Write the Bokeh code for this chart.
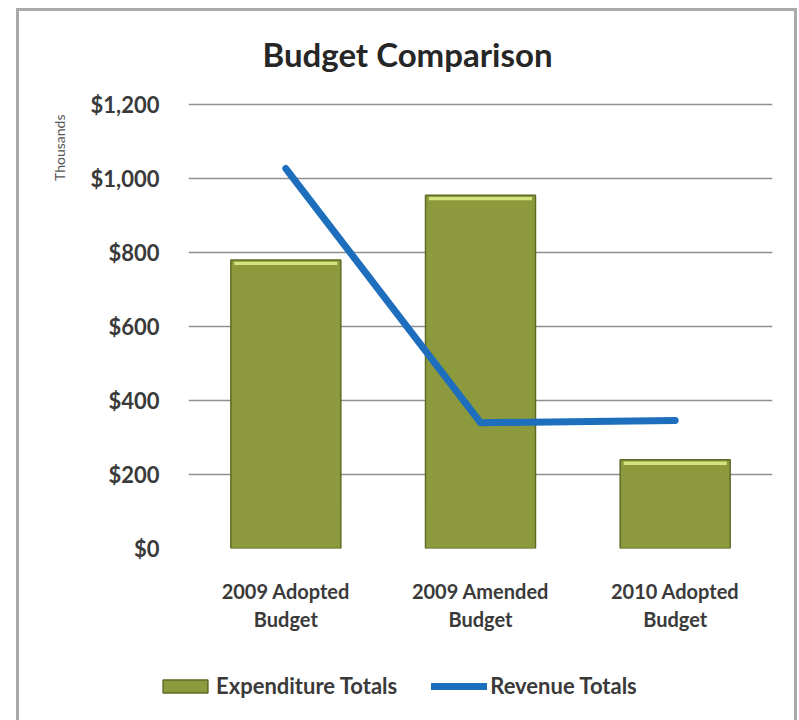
from bokeh.plotting import figure
from bokeh.layouts import column
from bokeh.models import (FactorRange, Range1d, FixedTicker, NumeralTickFormatter,
                          Title, Legend, LegendItem, ColumnDataSource, InlineStyleSheet)
from bokeh.embed import file_html
from bokeh.resources import INLINE

categories = ["2009 Adopted\nBudget", "2009 Amended\nBudget", "2010 Adopted\nBudget"]
expenditure_totals = [780, 955, 240]
revenue_totals = [1027, 340, 346]
y_ticks = [0, 200, 400, 600, 800, 1000, 1200]
series_names = ["Expenditure Totals", "Revenue Totals"]

FONT = "Lato"
TXT = "#3a3a3a"
BAR_FILL, BAR_LINE, LINE_COLOR = "#8C9A3D", "#5F6B25", "#1E6EBE"

src = ColumnDataSource(dict(cat=categories, exp=expenditure_totals, rev=revenue_totals,
                            hl_top=[v - 5 for v in expenditure_totals],
                            hl_bot=[v - 14 for v in expenditure_totals]))

p = figure(width=799, height=655, output_backend="svg", toolbar_location=None,
           x_range=FactorRange(factors=categories), y_range=Range1d(0, 1205.4),
           min_border_left=188, min_border_right=27, min_border_top=102,
           min_border_bottom=107)
p.outline_line_color = None
p.background_fill_color = "white"
p.border_fill_color = "white"

p.vbar(x="cat", top="exp", bottom=0, width=0.565, source=src,
       fill_color=BAR_FILL, line_color=BAR_LINE, line_width=1.5)
p.vbar(x="cat", top="hl_top", bottom="hl_bot", width=0.53, source=src,
       fill_color="#D5E27E", line_color=None)
p.line(x="cat", y="rev", source=src, line_color=LINE_COLOR, line_width=7,
       line_cap="round", line_join="round")

# axes
p.yaxis.ticker = FixedTicker(ticks=y_ticks)
p.yaxis.formatter = NumeralTickFormatter(format="$0,0")
p.yaxis.major_label_text_font = FONT
p.yaxis.major_label_text_font_size = "22px"
p.yaxis.major_label_text_font_style = "bold"
p.yaxis.major_label_text_color = TXT
p.yaxis.major_label_standoff = 23
p.yaxis.axis_line_color = None
p.yaxis.major_tick_line_color = None
p.yaxis.minor_tick_line_color = None

p.xaxis.major_label_text_font = FONT
p.xaxis.major_label_text_font_size = "20px"
p.xaxis.major_label_text_font_style = "bold"
p.xaxis.major_label_text_color = TXT
p.xaxis.major_label_text_line_height = 1.2
p.xaxis.major_label_standoff = 24
p.xaxis.axis_line_color = None
p.xaxis.major_tick_line_color = None
p.xaxis.minor_tick_line_color = None

p.xgrid.grid_line_color = None
p.ygrid.ticker = FixedTicker(ticks=y_ticks)
p.ygrid.grid_line_color = "#8f8f8f"
p.ygrid.grid_line_width = 1.6

p.title.text = "Budget Comparison"
p.title.align = "left"
p.title.offset = 74
p.title.standoff = 58
p.title.text_font = FONT
p.title.text_font_size = "33px"
p.title.text_line_height = 1.0
p.title.text_font_style = "bold"
p.title.text_color = "#262626"

p.add_layout(Title(text="Thousands", align="right", offset=12, standoff=39,
                   text_font=FONT, text_font_size="14px", text_font_style="normal",
                   text_color="#555555"), "left")

# legend strip: same series, renderers hidden, only the legend is visible
q = figure(width=799, height=65, output_backend="svg", toolbar_location=None,
           x_range=FactorRange(factors=categories), y_range=Range1d(-100, -50),
           min_border=0, min_border_left=0, min_border_right=0,
           min_border_top=0, min_border_bottom=0)
q.frame_align = False
q.axis.visible = False
q.grid.visible = False
q.outline_line_color = None
q.border_fill_color = "white"
q.background_fill_color = "white"
lb = q.vbar(x="cat", top="exp", bottom=0, width=0.565, source=src,
            fill_color=BAR_FILL, line_color=BAR_LINE, line_width=1.5)
ll = q.line(x="cat", y="rev", source=src, line_color=LINE_COLOR, line_width=7,
            line_cap="round")
lb.visible = False
ll.visible = False
legend = Legend(items=[LegendItem(label=series_names[0], renderers=[lb]),
                       LegendItem(label=series_names[1], renderers=[ll])],
                orientation="horizontal", location=(157, 21),
                label_text_font=FONT, label_text_font_size="22px",
                label_text_font_style="bold", label_text_color=TXT,
                glyph_width=56, glyph_height=16, spacing=34, label_standoff=3,
                padding=0, margin=0, border_line_color=None,
                background_fill_alpha=0, inactive_fill_alpha=0)
q.add_layout(legend, "center")

layout = column(p, q, spacing=0)
layout.stylesheets = [InlineStyleSheet(css=(
    ":host::after { content: ''; position: absolute; left: 16px; top: 8px; "
    "width: 781px; height: 730px; border: 3px solid #a9a9a9; box-sizing: border-box; "
    "pointer-events: none; }"))]

open("out.html", "w").write(file_html(layout, INLINE))
